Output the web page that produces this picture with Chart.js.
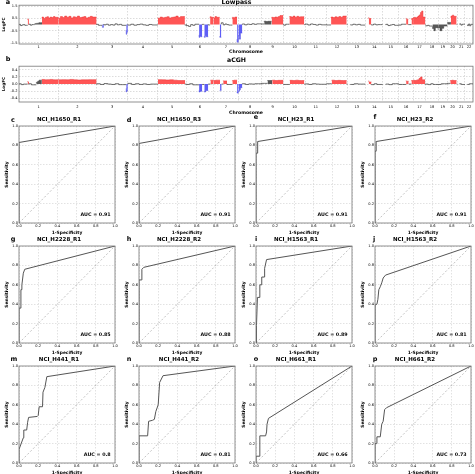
<!DOCTYPE html>
<html lang="en">
<head>
<meta charset="UTF-8">
<title>Lowpass vs aCGH copy number and ROC curves</title>
<script src="https://cdn.jsdelivr.net/npm/chart.js"></script>
<style>
  body { margin: 0; width: 475px; height: 474px; position: relative; overflow: hidden; background: #fff; font-family: "DejaVu Sans", sans-serif; }
  canvas { position: absolute; }
  .letter { position: absolute; font-weight: bold; font-size: 6.5px; line-height: 6.5px; transform: translate(-50%, -50%); }
</style>
</head>
<body>
<script>
// ---- genome data ----
const chromosomes = ['1','2','3','4','5','6','7','8','9','10','11','12','13','14','15','16','17','18','19','20','21','22'];
const chromLengthsMb = [249,243,198,191,181,171,159,146,141,136,135,134,115,107,103,90,81,78,59,63,48,51];
const lowpassTicks = [-1.5, -1.0, -0.5, 0.0, 0.5, 1.0, 1.5];
const acghTicks = [-0.4, -0.2, 0.0, 0.2, 0.4];

// [chromosome, start Mb, end Mb, call, LogFC values along the segment]
const lowpassSegments = [
  ['1', 1, 55, 'none', [-0.05, 0.02, -0.08, -0.03, 0.0, -0.06]],
  ['1', 55, 63, 'gain', [0.5, 0.42]],
  ['1', 63, 100, 'none', [-0.02, 0.03, -0.05, 0.0]],
  ['1', 100, 146, 'mid', [0.04, 0.08, 0.1, 0.12, 0.16]],
  ['1', 146, 249, 'gain', [0.55, 0.62, 0.5, 0.6, 0.65, 0.55, 0.62, 0.58, 0.66, 0.6]],
  ['2', 0, 243, 'gain', [0.6, 0.52, 0.66, 0.58, 0.7, 0.6, 0.68, 0.55, 0.64, 0.6, 0.7, 0.58, 0.62, 0.66, 0.55, 0.6, 0.68, 0.62]],
  ['3', 0, 36, 'none', [-0.03, 0.02, -0.06]],
  ['3', 36, 46, 'loss', [-0.15, -0.22]],
  ['3', 46, 188, 'none', [0.05, -0.02, 0.03, -0.05, 0.0, -0.04, 0.06, -0.02, 0.02, -0.06]],
  ['3', 188, 198, 'loss', [-0.45, -0.8, -0.6]],
  ['4', 0, 191, 'none', [0.02, -0.04, 0.03, -0.05, 0.0, 0.04, -0.02, -0.06, 0.01, -0.03]],
  ['5', 0, 171, 'gain', [0.58, 0.52, 0.62, 0.56, 0.6, 0.65, 0.55, 0.6, 0.63, 0.7, 0.58, 0.66]],
  ['5', 171, 181, 'none', [0.0, -0.04]],
  ['6', 0, 80, 'none', [0.02, -0.08, -0.15, 0.0, -0.06, 0.03]],
  ['6', 80, 100, 'loss', [-0.85, -1.05, -0.95, -1.0]],
  ['6', 100, 113, 'none', [-0.02, 0.02]],
  ['6', 113, 138, 'loss', [-0.95, -1.05, -0.9, -1.0]],
  ['6', 138, 150, 'none', [0.02, -0.03]],
  ['6', 150, 171, 'gain', [0.55, 0.65, 0.6]],
  ['7', 0, 40, 'gain', [0.62, 0.55, 0.66, 0.6]],
  ['7', 40, 50, 'loss', [-0.95, -1.05]],
  ['7', 50, 120, 'none', [0.03, 0.15, -0.02, 0.05, 0.0, -0.04]],
  ['7', 120, 150, 'gain', [0.45, 0.6, 0.55, 0.62]],
  ['7', 150, 159, 'loss', [-1.2, -1.45]],
  ['8', 0, 24, 'loss', [-1.4, -0.9, -1.2, -0.7]],
  ['8', 24, 146, 'none', [0.0, 0.05, -0.02, 0.04, 0.01, 0.07, 0.02, 0.06]],
  ['9', 0, 17, 'none', [0.02, 0.05]],
  ['9', 17, 64, 'mid', [0.22, 0.28, 0.25, 0.27]],
  ['9', 64, 138, 'gain', [0.55, 0.6, 0.58, 0.63, 0.6, 0.66, 0.75]],
  ['9', 138, 141, 'none', [0.0]],
  ['10', 0, 36, 'none', [0.02, -0.05, 0.03]],
  ['10', 36, 130, 'gain', [0.6, 0.66, 0.62, 0.7, 0.6, 0.68, 0.63, 0.65]],
  ['10', 130, 136, 'none', [0.0]],
  ['11', 0, 135, 'none', [0.0, 0.04, -0.03, 0.05, 0.01, -0.04, 0.02, -0.02]],
  ['12', 0, 29, 'none', [0.01, -0.03]],
  ['12', 29, 128, 'gain', [0.55, 0.62, 0.58, 0.64, 0.6, 0.66, 0.6, 0.7]],
  ['12', 128, 134, 'none', [0.0]],
  ['13', 18, 112, 'none', [0.0, -0.03, 0.03, -0.02, 0.02, -0.04]],
  ['14', 19, 35, 'gain', [0.62, 0.5]],
  ['14', 35, 107, 'none', [0.02, -0.03, 0.04, -0.02, 0.0]],
  ['15', 20, 103, 'none', [-0.04, 0.02, -0.08, -0.03, 0.01, -0.06]],
  ['16', 0, 46, 'none', [0.0, -0.04, 0.03]],
  ['16', 46, 60, 'gain', [0.55, 0.45]],
  ['16', 60, 80, 'none', [0.02, 0.0]],
  ['16', 80, 90, 'gain', [0.4, 0.5]],
  ['17', 0, 78, 'gain', [0.5, 0.56, 0.6, 0.54, 0.62, 0.7, 0.8, 1.0, 1.12, 0.62]],
  ['17', 78, 81, 'none', [0.0]],
  ['18', 0, 42, 'none', [-0.05, -0.1, -0.06, -0.12]],
  ['18', 42, 78, 'mid', [-0.15, -0.32, -0.5, -0.25]],
  ['19', 0, 59, 'mid', [-0.42, -0.25, -0.5, -0.3, -0.12]],
  ['20', 0, 22, 'mid', [0.08, 0.18]],
  ['20', 22, 58, 'gain', [0.55, 0.7, 0.78, 0.68]],
  ['20', 58, 63, 'none', [0.0]],
  ['21', 14, 48, 'none', [0.02, 0.06, -0.04, 0.03]],
  ['22', 16, 51, 'none', [0.0, -0.08, 0.05, -0.1, 0.02]]
];

const acghSegments = [
  ['1', 1, 55, 'none', [-0.01, 0.01, -0.015, 0.0]],
  ['1', 55, 63, 'gain', [0.08, 0.06]],
  ['1', 63, 110, 'none', [-0.01, 0.01, -0.02]],
  ['1', 110, 145, 'mid', [0.02, 0.05, 0.08, 0.11]],
  ['1', 145, 249, 'gain', [0.12, 0.13, 0.12, 0.125, 0.13, 0.12]],
  ['2', 0, 243, 'gain', [0.13, 0.12, 0.125, 0.12, 0.13, 0.12, 0.115, 0.12, 0.12, 0.125]],
  ['3', 0, 188, 'none', [-0.01, 0.01, -0.01, 0.015, 0.0, -0.01, 0.01, -0.015]],
  ['3', 188, 198, 'loss', [-0.12, -0.22, -0.18]],
  ['4', 0, 191, 'none', [0.0, 0.02, -0.01, 0.01, -0.01, 0.005, -0.01, 0.0]],
  ['5', 0, 172, 'gain', [0.12, 0.125, 0.12, 0.115, 0.12, 0.11, 0.1]],
  ['5', 172, 181, 'none', [0.0]],
  ['6', 0, 80, 'none', [0.0, -0.01, 0.01, -0.02]],
  ['6', 80, 100, 'loss', [-0.18, -0.22, -0.2]],
  ['6', 100, 113, 'none', [-0.01]],
  ['6', 113, 138, 'loss', [-0.2, -0.22, -0.18]],
  ['6', 138, 152, 'none', [0.0]],
  ['6', 152, 171, 'gain', [0.1, 0.11]],
  ['7', 0, 42, 'gain', [0.11, 0.1, 0.11]],
  ['7', 42, 52, 'loss', [-0.2, -0.17]],
  ['7', 52, 62, 'none', [0.0]],
  ['7', 62, 86, 'gain', [0.1, 0.09]],
  ['7', 86, 120, 'none', [0.01, -0.01]],
  ['7', 120, 150, 'gain', [0.08, 0.1, 0.11]],
  ['7', 150, 159, 'loss', [-0.22, -0.25]],
  ['8', 0, 24, 'loss', [-0.24, -0.2, -0.16, -0.1]],
  ['8', 24, 146, 'none', [0.0, 0.01, -0.01, 0.005, 0.0, 0.01]],
  ['9', 0, 38, 'none', [0.0, 0.02]],
  ['9', 38, 68, 'mid', [0.09, 0.1]],
  ['9', 68, 138, 'gain', [0.1, 0.11, 0.1, 0.105]],
  ['9', 138, 141, 'none', [0.0]],
  ['10', 0, 38, 'none', [0.0, -0.01]],
  ['10', 38, 130, 'gain', [0.1, 0.105, 0.1, 0.11, 0.1]],
  ['10', 130, 136, 'none', [0.0]],
  ['11', 0, 135, 'none', [0.0, 0.005, -0.01, 0.01, 0.0, -0.005]],
  ['12', 0, 33, 'none', [0.0, 0.01]],
  ['12', 33, 128, 'gain', [0.1, 0.11, 0.1, 0.105, 0.1]],
  ['12', 128, 134, 'none', [0.0]],
  ['13', 18, 112, 'none', [0.0, -0.01, 0.01, 0.0]],
  ['14', 19, 36, 'gain', [0.1, 0.06]],
  ['14', 36, 107, 'none', [0.0, -0.015, 0.01, -0.01]],
  ['15', 20, 103, 'none', [-0.01, 0.0, -0.015, 0.01]],
  ['16', 0, 46, 'none', [0.0, -0.01]],
  ['16', 46, 62, 'gain', [0.1, 0.08]],
  ['16', 62, 80, 'none', [0.0]],
  ['16', 80, 90, 'gain', [0.08, 0.1]],
  ['17', 0, 76, 'gain', [0.1, 0.11, 0.1, 0.11, 0.12, 0.16, 0.2, 0.12]],
  ['17', 76, 81, 'none', [0.0]],
  ['18', 0, 78, 'none', [-0.01, 0.0, -0.015, 0.01, -0.01]],
  ['19', 0, 59, 'none', [0.0, -0.01, 0.01]],
  ['20', 0, 18, 'none', [0.0, 0.02]],
  ['20', 18, 58, 'gain', [0.08, 0.1, 0.11, 0.1]],
  ['20', 58, 63, 'none', [0.0]],
  ['21', 14, 48, 'none', [0.0, 0.01, -0.01]],
  ['22', 16, 51, 'none', [0.0, -0.01, 0.01]]
];

// ---- ROC data: [1-specificity, sensitivity] ----
const rocH1650R1 = [[0,0],[0,0.83],[1,1]];
const rocH1650R3 = [[0,0],[0,0.82],[1,1]];
const rocH23R1 = [[0,0],[0,0.72],[0.012,0.72],[0.012,0.8],[0.02,0.8],[0.02,0.84],[1,1]];
const rocH23R2 = [[0,0],[0,0.74],[0.012,0.74],[0.012,0.84],[1,1]];
const rocH2228R1 = [[0,0],[0,0.36],[0.02,0.36],[0.02,0.55],[0.03,0.55],[0.03,0.6],[0.045,0.72],[0.06,0.76],[1,1]];
const rocH2228R2 = [[0,0],[0,0.65],[0.025,0.65],[0.03,0.76],[0.05,0.78],[1,1]];
const rocH1563R1 = [[0,0],[0.005,0.18],[0.015,0.47],[0.04,0.47],[0.04,0.6],[0.06,0.6],[0.06,0.68],[0.085,0.68],[0.09,0.77],[0.11,0.86],[1,1]];
const rocH1563R2 = [[0,0],[0,0.39],[0.02,0.4],[0.03,0.45],[0.04,0.55],[0.055,0.58],[0.07,0.62],[0.085,0.67],[0.11,0.7],[1,1]];
const rocH441R1 = [[0,0],[0,0.14],[0.045,0.26],[0.05,0.34],[0.08,0.34],[0.09,0.42],[0.1,0.47],[0.19,0.48],[0.2,0.49],[0.21,0.58],[0.245,0.58],[0.25,0.73],[0.27,0.78],[0.29,0.89],[1,1]];
const rocH441R2 = [[0,0],[0,0.28],[0.09,0.28],[0.1,0.43],[0.14,0.44],[0.16,0.45],[0.175,0.53],[0.2,0.6],[0.215,0.83],[0.25,0.9],[1,1]];
const rocH661R1 = [[0,0],[0,0.07],[0.04,0.07],[0.04,0.28],[0.1,0.28],[0.11,0.32],[0.115,0.4],[0.13,0.46],[1,1]];
const rocH661R2 = [[0,0],[0,0.2],[0.015,0.2],[0.02,0.27],[0.055,0.27],[0.07,0.4],[0.085,0.43],[0.1,0.55],[0.12,0.57],[1,1]];

const rocCurves = [rocH1650R1, rocH1650R3, rocH23R1, rocH23R2, rocH2228R1, rocH2228R2, rocH1563R1, rocH1563R2, rocH441R1, rocH441R2, rocH661R1, rocH661R2];
const rocTitles = ['NCI_H1650_R1','NCI_H1650_R3','NCI_H23_R1','NCI_H23_R2','NCI_H2228_R1','NCI_H2228_R2','NCI_H1563_R1','NCI_H1563_R2','NCI_H441_R1','NCI_H441_R2','NCI_H661_R1','NCI_H661_R2'];
const rocAuc = ['0.91','0.91','0.91','0.91','0.85','0.88','0.89','0.81','0.8','0.81','0.66','0.73'];
const rocLetters = ['c','d','e','f','g','h','i','j','m','n','o','p'];

// ---- setup ----
Chart.defaults.font.family = '"DejaVu Sans", sans-serif';
Chart.defaults.color = '#000';
Chart.defaults.animation = false;

const boxPlugin = {
  id: 'box',
  afterDatasetsDraw(chart) {
    const a = chart.chartArea, c = chart.ctx;
    c.save();
    c.strokeStyle = '#777';
    c.lineWidth = 0.8;
    c.strokeRect(a.left, a.top, a.right - a.left, a.bottom - a.top);
    c.restore();
  }
};

const aucPlugin = {
  id: 'auc',
  afterDraw(chart, args, opts) {
    if (!opts.text) return;
    const c = chart.ctx;
    c.save();
    c.font = 'bold 4.8px "DejaVu Sans", sans-serif';
    c.fillStyle = '#000';
    c.textAlign = 'right';
    c.textBaseline = 'middle';
    c.fillText(opts.text, chart.scales.x.getPixelForValue(0.955), chart.scales.y.getPixelForValue(0.09));
    c.restore();
  }
};

function addCanvas(left, top, w, h) {
  const cv = document.createElement('canvas');
  cv.width = w; cv.height = h;
  cv.style.left = left + 'px'; cv.style.top = top + 'px';
  cv.style.width = w + 'px'; cv.style.height = h + 'px';
  document.body.appendChild(cv);
  return cv;
}

function addLetter(text, x, y) {
  const d = document.createElement('div');
  d.className = 'letter';
  d.textContent = text;
  d.style.left = x + 'px'; d.style.top = y + 'px';
  document.body.appendChild(d);
}

const chromOffsets = [];
let acc = 0;
chromLengthsMb.forEach(l => { chromOffsets.push(acc); acc += l; });
const genomeLength = acc;
const chromCenters = chromLengthsMb.map((l, i) => chromOffsets[i] + l / 2);
const chromBounds = chromOffsets.slice(1);

function segmentPoints(segments, call) {
  const pts = [];
  segments.filter(s => s[3] === call).forEach(s => {
    const off = chromOffsets[chromosomes.indexOf(s[0])];
    const vals = s[4], w = (s[2] - s[1]) / vals.length;
    vals.forEach((v, i) => pts.push({ x: off + s[1] + i * w, y: v }));
    pts.push({ x: off + s[2], y: vals[vals.length - 1] });
    pts.push({ x: off + s[2], y: null });
  });
  return pts;
}

function genomeChart(segments, title, ticks, range, left, top, w, h, titlePad, xHeight, tickPad) {
  const cv = addCanvas(left, top, w, h);
  const mk = (call, fillCol, lineCol, lw, fill) => ({
    data: segmentPoints(segments, call), stepped: 'after', fill: fill ? 'origin' : false,
    backgroundColor: fillCol, borderColor: lineCol, borderWidth: lw, pointRadius: 0
  });
  new Chart(cv, {
    type: 'line',
    data: { datasets: [
      mk('none', 'transparent', '#333', 0.7, false),
      mk('gain', 'rgba(255,70,70,0.92)', '#e83030', 0.5, true),
      mk('loss', 'rgba(80,80,245,0.92)', '#4040e0', 0.5, true),
      mk('mid', 'rgba(70,70,70,0.9)', '#333', 0.5, true)
    ]},
    options: {
      responsive: false,
      layout: { padding: { left: 0, right: 2, top: 0, bottom: 0 } },
      plugins: {
        legend: { display: false }, tooltip: { enabled: false },
        title: { display: true, text: title, font: { size: 6.2, weight: 'bold', lineHeight: 1 }, padding: titlePad, color: '#000' }
      },
      scales: {
        x: {
          type: 'linear', min: 0, max: genomeLength,
          afterBuildTicks: s => { s.ticks = chromCenters.map(v => ({ value: v })); },
          ticks: { autoSkip: false, maxRotation: 0, font: { size: 3.6 }, padding: tickPad, callback: (v, i) => chromosomes[i] },
          grid: { display: false, drawTicks: false }, border: { display: false },
          title: { display: true, text: 'Chromosome', font: { size: 4.6, weight: 'bold' }, padding: 0 },
          afterFit: s => { s.height = xHeight; }
        },
        xb: {
          type: 'linear', position: 'top', min: 0, max: genomeLength,
          afterBuildTicks: s => { s.ticks = chromBounds.map(v => ({ value: v })); },
          ticks: { display: false },
          grid: { color: '#b8b8b8', lineWidth: 0.5, drawTicks: false },
          border: { display: false, dash: [1.5, 1.5] },
          afterFit: s => { s.height = 0; }
        },
        y: {
          min: range[0], max: range[1],
          afterBuildTicks: s => { s.ticks = ticks.map(v => ({ value: v })); },
          ticks: { font: { size: 3.6 }, padding: 1.5, callback: v => v.toFixed(1) },
          grid: { color: '#b8b8b8', lineWidth: 0.5, drawTicks: false },
          border: { display: false, dash: [1.5, 1.5] },
          title: { display: true, text: 'LogFC', font: { size: 4.2, weight: 'bold' }, padding: { top: 1, bottom: 0 } },
          afterFit: s => { s.width = 19; }
        }
      }
    },
    plugins: [boxPlugin]
  });
}

genomeChart(lowpassSegments, 'Lowpass', lowpassTicks, [-1.6, 1.6], 0, -1, 475, 56, { top: 0, bottom: 0 }, 11, 1);
genomeChart(acghSegments, 'aCGH', acghTicks, [-0.5, 0.5], 0, 57, 475, 59, { top: 0, bottom: 3 }, 14, 3);
addLetter('a', 8, 2);
addLetter('b', 8, 59);

const rocCols = [19, 139, 256, 375];
const rocRows = [126, 246, 366];
const letterPos = [[13,120],[129,120],[256,117],[375,117],[13,239],[129,239],[256,239],[374,239],[14,359],[129,359],[256,359],[375,359]];

rocCurves.forEach((curve, i) => {
  const col = i % 4, row = Math.floor(i / 4);
  const cv = addCanvas(rocCols[col] - 16, rocRows[row] - 11, 117, 120);
  const axis = (label, fit) => ({
    type: 'linear', min: 0, max: 1,
    ticks: { stepSize: 0.2, font: { size: 3.6 }, padding: 1, callback: v => v.toFixed(1) },
    grid: { color: '#c4c4c4', lineWidth: 0.5, drawTicks: false },
    border: { display: false, dash: [1.5, 1.5] },
    title: { display: true, text: label, font: { size: 4.4, weight: 'bold' }, padding: { top: 1.5, bottom: 0 } },
    afterFit: fit
  });
  new Chart(cv, {
    type: 'line',
    data: { datasets: [
      { data: curve.map(p => ({ x: p[0], y: p[1] })), borderColor: '#555', borderWidth: 1, pointRadius: 0, tension: 0, fill: false },
      { data: [{ x: 0, y: 0 }, { x: 1, y: 1 }], borderColor: '#999', borderWidth: 0.6, borderDash: [2, 2], pointRadius: 0, fill: false }
    ]},
    options: {
      responsive: false,
      layout: { padding: { left: 0, right: 5, top: 0, bottom: 0 } },
      plugins: {
        legend: { display: false }, tooltip: { enabled: false },
        title: { display: true, text: rocTitles[i], font: { size: 5.5, weight: 'bold', lineHeight: 1 }, padding: { top: 2, bottom: 3.5 } },
        auc: { text: 'AUC = ' + rocAuc[i] }
      },
      scales: {
        x: axis('1-Specificity', s => { s.height = 12; }),
        y: axis('Sensitivity', s => { s.width = 16; })
      }
    },
    plugins: [boxPlugin, aucPlugin]
  });
  addLetter(rocLetters[i], letterPos[i][0], letterPos[i][1]);
});
</script>
</body>
</html>
